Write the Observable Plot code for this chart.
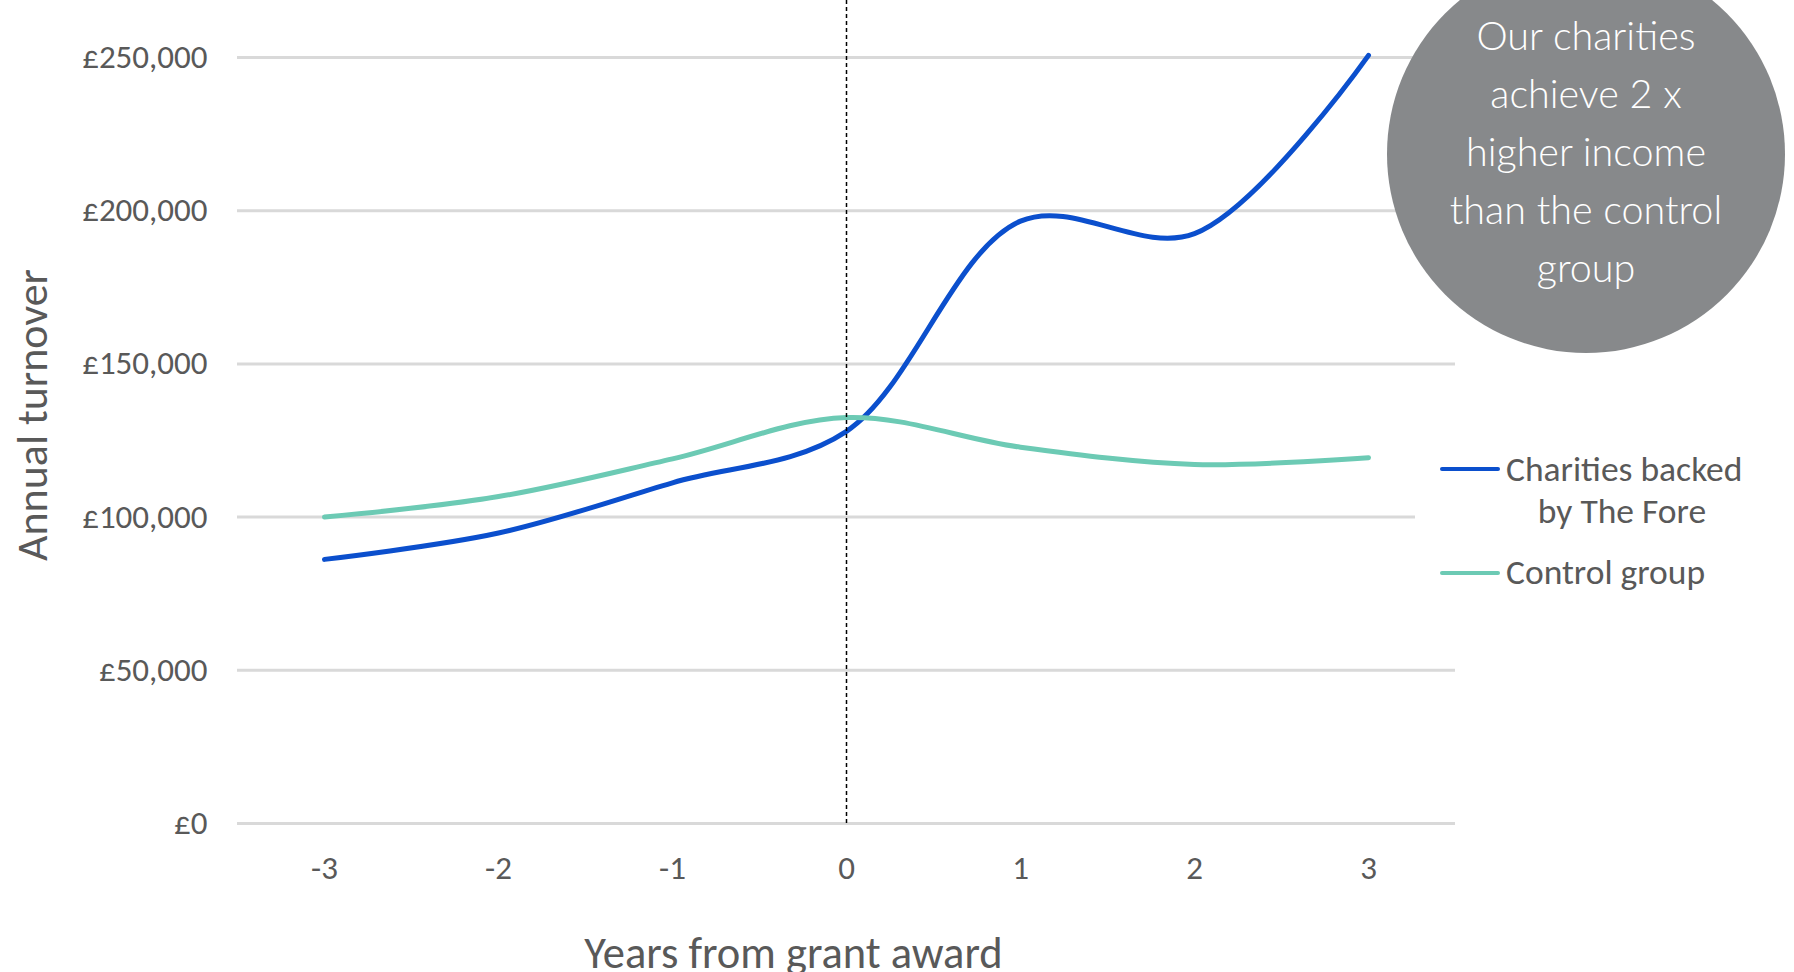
<!DOCTYPE html>
<html>
<head>
<meta charset="utf-8">
<script src="https://cdn.jsdelivr.net/npm/d3@7"></script>
<script src="https://cdn.jsdelivr.net/npm/@observablehq/plot@0.6"></script>
<style>
  html, body { margin: 0; padding: 0; background: #fff; }
  #wrap { position: relative; width: 1794px; height: 972px; overflow: hidden; font-family: Carlito, Calibri, Lato, "Open Sans", sans-serif; }
  #wrap svg { position: absolute; left: 0; top: 0; }
  #bubble { position: absolute; left: 1387px; top: -45px; width: 398px; height: 398px; border-radius: 50%; background: #87898b; }
  #bubbleText { position: absolute; left: 1387px; top: 6px; width: 398px; text-align: center; color: #fff;
    font-family: Lato, "Open Sans", sans-serif; font-weight: 300; font-size: 39.5px; line-height: 58px; }
  #legend { position: absolute; left: 1415px; top: 440px; width: 379px; height: 165px; background: #fff; color: #595959; font-size: 35.5px; }
  .sw { position: absolute; left: 25px; width: 60px; height: 4px; border-radius: 2px; }
  .lt { position: absolute; white-space: nowrap; line-height: 40px; }
</style>
</head>
<body>
<div id="wrap"></div>
<script>
const years = [-3, -2, -1, 0, 1, 2, 3];
const backedValues = [86200, 94800, 111200, 128000, 196600, 192500, 250700];
const controlValues = [100000, 106700, 119000, 132500, 122800, 117200, 119400];
const seriesNames = ["Charities backed by The Fore", "Control group"];
const seriesColors = ["#0b4fcd", "#6ccab4"];
const yTicks = [0, 50000, 100000, 150000, 200000, 250000];
const xTitle = "Years from grant award";
const yTitle = "Annual turnover";
const bubbleLines = ["Our charities", "achieve 2 x", "higher income", "than the control", "group"];

const rows = [];
years.forEach((yr, i) => {
  rows.push({year: yr, value: backedValues[i], series: seriesNames[0]});
});
years.forEach((yr, i) => {
  rows.push({year: yr, value: controlValues[i], series: seriesNames[1]});
});

const font = "Carlito, Calibri, Lato, 'Open Sans', sans-serif";

const chart = Plot.plot({
  width: 1794,
  height: 972,
  marginLeft: 237,
  marginRight: 339,
  marginTop: 0,
  marginBottom: 149,
  x: {domain: [-3.5, 3.5]},
  y: {domain: [0, 268600]},
  color: {domain: seriesNames, range: seriesColors},
  style: {fontFamily: font, color: "#595959", background: "transparent", overflow: "visible"},
  marks: [
    Plot.gridY(yTicks, {stroke: "#d9d9d9", strokeOpacity: 1, strokeWidth: 3}),
    Plot.axisY(yTicks, {tickSize: 0, tickPadding: 30, fontSize: 33, label: null,
      tickFormat: d => "£" + d3.format(",")(d)}),
    Plot.axisX(years, {tickSize: 0, tickPadding: 32, fontSize: 33, label: null,
      tickFormat: d => String(d).replace("−", "-")}),
    Plot.line(rows, {x: "year", y: "value", z: "series", stroke: "series",
      curve: "catmull-rom", strokeWidth: 5, strokeLinecap: "round"}),
    Plot.ruleX([0], {stroke: "#000", strokeWidth: 1.5, strokeDasharray: "4,3", insetBottom: -3}),
    Plot.text([xTitle], {frameAnchor: "bottom", textAnchor: "middle", lineAnchor: "middle",
      dx: -53, dy: 130, fontSize: 44.5, fill: "#595959"}),
    Plot.text([yTitle], {frameAnchor: "left", textAnchor: "middle", lineAnchor: "middle",
      rotate: -90, dx: -205, dy: 3, fontSize: 44, fill: "#595959"})
  ]
});

const wrap = document.getElementById("wrap");
wrap.appendChild(chart);

const bubble = document.createElement("div");
bubble.id = "bubble";
wrap.appendChild(bubble);
const bt = document.createElement("div");
bt.id = "bubbleText";
bt.innerHTML = bubbleLines.join("<br>");
wrap.appendChild(bt);

// legend
const legend = document.createElement("div");
legend.id = "legend";
legend.innerHTML = `
  <div class="sw" style="top:27px;background:${seriesColors[0]}"></div>
  <div class="lt" style="left:91px;top:9px">Charities backed</div>
  <div class="lt" style="left:91px;top:51px;width:232px;text-align:center">by The Fore</div>
  <div class="sw" style="top:131px;background:${seriesColors[1]}"></div>
  <div class="lt" style="left:91px;top:112px">${seriesNames[1]}</div>`;
wrap.appendChild(legend);
</script>
</body>
</html>
